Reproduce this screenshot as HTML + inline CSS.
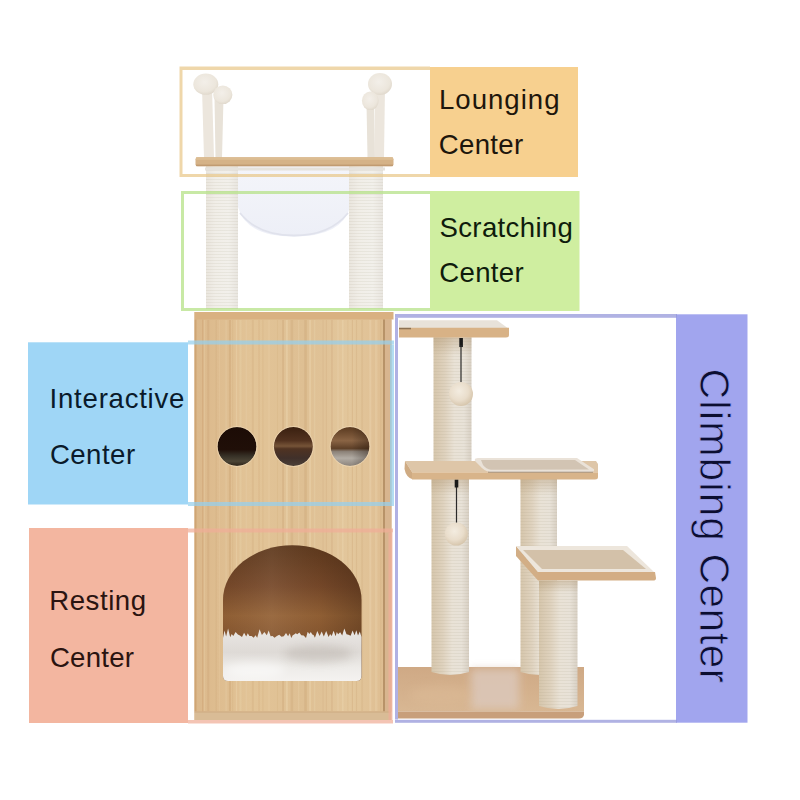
<!DOCTYPE html>
<html><head><meta charset="utf-8">
<style>
html,body{margin:0;padding:0;background:#fff;width:800px;height:800px;overflow:hidden}
svg{display:block}
text{font-family:"Liberation Sans",sans-serif}
</style></head>
<body>
<svg width="800" height="800" viewBox="0 0 800 800">
<defs>
  <filter id="blurS" x="-5%" y="-20%" width="110%" height="140%"><feGaussianBlur stdDeviation="0.6"/></filter>
  <linearGradient id="topShade" x1="0" x2="0" y1="0" y2="1">
    <stop offset="0" stop-color="#A88A62" stop-opacity="0.35"/>
    <stop offset="1" stop-color="#A88A62" stop-opacity="0"/>
  </linearGradient>
  <radialGradient id="ball" cx="0.42" cy="0.38" r="0.65">
    <stop offset="0" stop-color="#F3ECE0"/>
    <stop offset="0.6" stop-color="#E9DDCB"/>
    <stop offset="1" stop-color="#D5C4AA"/>
  </radialGradient>
  <radialGradient id="pom" cx="0.45" cy="0.4" r="0.65">
    <stop offset="0" stop-color="#F3EFE9"/>
    <stop offset="0.7" stop-color="#ECE6DC"/>
    <stop offset="1" stop-color="#DDD5C8"/>
  </radialGradient>
  <filter id="blur4" x="-50%" y="-50%" width="200%" height="200%"><feGaussianBlur stdDeviation="4"/></filter>
  <filter id="blur2" x="-50%" y="-50%" width="200%" height="200%"><feGaussianBlur stdDeviation="1.5"/></filter>
  <clipPath id="archClip"><path d="M223 676 L223 600 A69 54.5 0 0 1 361.5 600 L361.5 676 Q361.5 681 356.5 681 L228 681 Q223 681 223 676 Z"/></clipPath>
  <pattern id="stripes" width="6" height="3" patternUnits="userSpaceOnUse">
    <rect y="2" width="6" height="1" fill="#9a8a70" opacity="0.10"/>
  </pattern>
  <linearGradient id="postW" x1="0" x2="1" y1="0" y2="0">
    <stop offset="0" stop-color="#EAE6DE"/>
    <stop offset="0.3" stop-color="#F1EEE8"/>
    <stop offset="0.7" stop-color="#F2F0EB"/>
    <stop offset="1" stop-color="#E9E6E0"/>
  </linearGradient>
  <linearGradient id="postB" x1="0" x2="1" y1="0" y2="0">
    <stop offset="0" stop-color="#D6C6AC"/>
    <stop offset="0.3" stop-color="#DFD2BE"/>
    <stop offset="0.55" stop-color="#E9E2D6"/>
    <stop offset="0.8" stop-color="#E8E2D8"/>
    <stop offset="1" stop-color="#D8D0C4"/>
  </linearGradient>
  <linearGradient id="wood" x1="0" x2="1" y1="0" y2="0">
    <stop offset="0" stop-color="#DBB88B"/>
    <stop offset="0.3" stop-color="#E2C497"/>
    <stop offset="0.55" stop-color="#DEBF93"/>
    <stop offset="0.8" stop-color="#E3C79C"/>
    <stop offset="1" stop-color="#DDBB8F"/>
  </linearGradient>
  <linearGradient id="archIn" x1="0" x2="0" y1="0" y2="1">
    <stop offset="0" stop-color="#5E391D"/>
    <stop offset="0.3" stop-color="#77492A"/>
    <stop offset="0.52" stop-color="#946236"/>
    <stop offset="0.7" stop-color="#86562F"/>
    <stop offset="0.8" stop-color="#6C4222"/>
    <stop offset="1" stop-color="#6A4224"/>
  </linearGradient>
  <linearGradient id="archSide" x1="0" x2="1" y1="0" y2="0">
    <stop offset="0" stop-color="#2a1608" stop-opacity="0.05"/>
    <stop offset="0.35" stop-color="#fff" stop-opacity="0.06"/>
    <stop offset="0.7" stop-color="#2a1608" stop-opacity="0.05"/>
    <stop offset="1" stop-color="#2a1608" stop-opacity="0.3"/>
  </linearGradient>
  <linearGradient id="fluff" x1="0" x2="0" y1="0" y2="1">
    <stop offset="0" stop-color="#EAE7E4"/>
    <stop offset="0.45" stop-color="#DEDAD6"/>
    <stop offset="0.75" stop-color="#EEECE9"/>
    <stop offset="1" stop-color="#F4F2F0"/>
  </linearGradient>
  <linearGradient id="hole1" x1="0" x2="0" y1="0" y2="1">
    <stop offset="0" stop-color="#1C0C06"/>
    <stop offset="0.58" stop-color="#200F08"/>
    <stop offset="0.74" stop-color="#363026"/>
    <stop offset="0.88" stop-color="#4C4536"/>
    <stop offset="1" stop-color="#2E2419"/>
  </linearGradient>
  <linearGradient id="hole2" x1="0" x2="0" y1="0" y2="1">
    <stop offset="0" stop-color="#3A2010"/>
    <stop offset="0.35" stop-color="#52321F"/>
    <stop offset="0.49" stop-color="#765438"/>
    <stop offset="0.56" stop-color="#503322"/>
    <stop offset="0.8" stop-color="#40302A"/>
    <stop offset="1" stop-color="#4C4038"/>
  </linearGradient>
  <linearGradient id="hole3" x1="0" x2="0" y1="0" y2="1">
    <stop offset="0" stop-color="#5A3A20"/>
    <stop offset="0.35" stop-color="#8A6444"/>
    <stop offset="0.55" stop-color="#5E4028"/>
    <stop offset="0.63" stop-color="#8C8278"/>
    <stop offset="0.8" stop-color="#B2ACA4"/>
    <stop offset="1" stop-color="#8C847C"/>
  </linearGradient>
  <linearGradient id="holeSide" x1="0" x2="1" y1="0" y2="0">
    <stop offset="0" stop-color="#000" stop-opacity="0"/>
    <stop offset="0.55" stop-color="#000" stop-opacity="0"/>
    <stop offset="1" stop-color="#1a0a00" stop-opacity="0.35"/>
  </linearGradient>
  <linearGradient id="dome" x1="0" x2="0" y1="0" y2="1">
    <stop offset="0" stop-color="#F4F5FA"/>
    <stop offset="1" stop-color="#EDEFF7"/>
  </linearGradient>
</defs>

<!-- ============ Label fills ============ -->
<rect x="430" y="67" width="148" height="110" fill="#F7D08F"/>
<rect x="430" y="191" width="149.5" height="120" fill="#CFEEA0"/>
<rect x="28" y="342.3" width="160" height="162.2" fill="#9FD6F6"/>
<rect x="29" y="528" width="159" height="195" fill="#F3B6A0"/>
<rect x="676" y="314.3" width="71.5" height="408.4" fill="#A1A5EE"/>

<!-- ============ Cat tree : top ============ -->
<!-- pompom sticks left -->
<path d="M202 88 L212 88 L214 158 L204 158 Z" fill="#ECE6DD"/>
<path d="M214.5 98 L223.5 98 L222 158 L215.5 158 Z" fill="#E8E2D8"/>
<ellipse cx="205.8" cy="84.2" rx="12.5" ry="10.6" fill="url(#pom)"/>
<ellipse cx="222.8" cy="94.8" rx="9.6" ry="9.3" fill="url(#pom)"/>
<!-- pompom sticks right -->
<path d="M375 86 L385 86 L384 158 L374 158 Z" fill="#ECE6DD"/>
<path d="M366.5 103 L374 103 L374.5 158 L367.5 158 Z" fill="#E8E2D8"/>
<ellipse cx="380" cy="84" rx="12" ry="11" fill="url(#pom)"/>
<ellipse cx="370.3" cy="100.8" rx="8.4" ry="9.3" fill="url(#pom)"/>

<!-- dome -->
<path d="M238 166 L350 166 L350 207 Q342 236.5 294 236.5 Q246 236.5 238 207 Z" fill="url(#dome)"/>
<path d="M240 213 Q258 235.5 294 235.5 Q330 235.5 348 213" fill="none" stroke="#E0E2EC" stroke-width="1.8"/>
<!-- posts -->
<rect x="206" y="166" width="32" height="143" fill="url(#postW)"/>
<rect x="206" y="166" width="32" height="143" fill="url(#stripes)"/>
<rect x="349" y="166" width="34" height="143" fill="url(#postW)"/>
<rect x="349" y="166" width="34" height="143" fill="url(#stripes)"/>
<!-- top platform -->
<rect x="195.5" y="157.3" width="198" height="9" rx="2" fill="#D5B287"/>
<rect x="196" y="157.3" width="197" height="2.5" fill="#DCBD93"/>
<rect x="196" y="164.6" width="197" height="1.6" fill="#B89268" opacity="0.7"/>
<rect x="205" y="167.5" width="180" height="3" fill="#E6E2DC"/>

<!-- ============ Cabinet ============ -->
<rect x="194.5" y="312" width="197" height="408" fill="url(#wood)"/>
<rect x="194.5" y="312" width="199" height="7.5" fill="#D9B181"/>
<rect x="194.5" y="319.5" width="2" height="392" fill="#CFA574"/>
<rect x="202" y="319.5" width="1.2" height="392" fill="#D2AA7A" opacity="0.7"/>
<rect x="385" y="319.5" width="6.5" height="392" fill="#D8B58F"/>
<rect x="383" y="319.5" width="2" height="392" fill="#8A6038" opacity="0.45"/>
<rect x="194.5" y="711.5" width="196.5" height="8.5" fill="#D9BC96"/>
<rect x="194.5" y="711.5" width="196.5" height="1" fill="#C9A277" opacity="0.6"/>
<!-- subtle grain -->
<g>
<rect x="204.0" y="320" width="1.2" height="391" fill="#F0DCB8" opacity="0.25"/>
<rect x="207.3" y="320" width="2" height="391" fill="#C9A070" opacity="0.30"/>
<rect x="215.7" y="320" width="1" height="391" fill="#C9A070" opacity="0.26"/>
<rect x="219.2" y="320" width="0.8" height="391" fill="#F0DCB8" opacity="0.16"/>
<rect x="225.6" y="320" width="1" height="391" fill="#F0DCB8" opacity="0.30"/>
<rect x="228.9" y="320" width="2" height="391" fill="#C9A070" opacity="0.39"/>
<rect x="232.2" y="320" width="1" height="391" fill="#C9A070" opacity="0.19"/>
<rect x="235.9" y="320" width="1.2" height="391" fill="#F0DCB8" opacity="0.32"/>
<rect x="239.5" y="320" width="2" height="391" fill="#F0DCB8" opacity="0.24"/>
<rect x="245.8" y="320" width="0.8" height="391" fill="#F0DCB8" opacity="0.30"/>
<rect x="251.8" y="320" width="2" height="391" fill="#C9A070" opacity="0.23"/>
<rect x="258.3" y="320" width="1.5" height="391" fill="#C9A070" opacity="0.21"/>
<rect x="262.4" y="320" width="1" height="391" fill="#C9A070" opacity="0.23"/>
<rect x="268.4" y="320" width="1.2" height="391" fill="#F0DCB8" opacity="0.22"/>
<rect x="277.2" y="320" width="0.8" height="391" fill="#C9A070" opacity="0.19"/>
<rect x="282.3" y="320" width="1.5" height="391" fill="#C9A070" opacity="0.39"/>
<rect x="285.8" y="320" width="2" height="391" fill="#F0DCB8" opacity="0.37"/>
<rect x="290.6" y="320" width="2.5" height="391" fill="#C9A070" opacity="0.27"/>
<rect x="298.4" y="320" width="0.8" height="391" fill="#F0DCB8" opacity="0.39"/>
<rect x="304.3" y="320" width="2.5" height="391" fill="#C9A070" opacity="0.33"/>
<rect x="309.1" y="320" width="2" height="391" fill="#F0DCB8" opacity="0.36"/>
<rect x="313.8" y="320" width="1.5" height="391" fill="#F0DCB8" opacity="0.24"/>
<rect x="322.5" y="320" width="1.2" height="391" fill="#C9A070" opacity="0.18"/>
<rect x="325.8" y="320" width="1.2" height="391" fill="#C9A070" opacity="0.21"/>
<rect x="331.2" y="320" width="1.5" height="391" fill="#C9A070" opacity="0.26"/>
<rect x="337.5" y="320" width="1" height="391" fill="#F0DCB8" opacity="0.37"/>
<rect x="342.1" y="320" width="1.5" height="391" fill="#F0DCB8" opacity="0.32"/>
<rect x="347.4" y="320" width="1" height="391" fill="#C9A070" opacity="0.19"/>
<rect x="351.8" y="320" width="1" height="391" fill="#C9A070" opacity="0.36"/>
<rect x="355.9" y="320" width="1.2" height="391" fill="#C9A070" opacity="0.25"/>
<rect x="361.1" y="320" width="2" height="391" fill="#C9A070" opacity="0.18"/>
<rect x="369.3" y="320" width="2" height="391" fill="#F0DCB8" opacity="0.33"/>
<rect x="375.0" y="320" width="2.5" height="391" fill="#F0DCB8" opacity="0.25"/>
<rect x="380.4" y="320" width="0.8" height="391" fill="#C9A070" opacity="0.25"/>
</g>
<!-- holes -->
<circle cx="237" cy="446.5" r="19.4" fill="url(#hole1)"/>
<circle cx="293.4" cy="446.5" r="19.5" fill="url(#hole2)"/>
<circle cx="350" cy="446.5" r="19.4" fill="url(#hole3)"/>
<circle cx="350" cy="446.5" r="19.4" fill="url(#holeSide)"/>
<g fill="none" stroke="#F2DDBC" stroke-width="0.9" opacity="0.7">
<circle cx="237" cy="446.5" r="19.9"/><circle cx="293.4" cy="446.5" r="20"/><circle cx="350" cy="446.5" r="19.9"/>
</g>
<!-- arch -->
<path id="archP" d="M223 676 L223 600 A69 54.5 0 0 1 361.5 600 L361.5 676 Q361.5 681 356.5 681 L228 681 Q223 681 223 676 Z" fill="url(#archIn)"/>
<path d="M223 676 L223 600 A69 54.5 0 0 1 361.5 600 L361.5 676 Q361.5 681 356.5 681 L228 681 Q223 681 223 676 Z" fill="url(#archSide)"/>
<path d="M223 638 L224.5 630.5 L226.1 636.4 L228.1 628.6 L230.2 637.3 L231.7 634.0 L233.3 635.9 L235.6 632.0 L237.9 634.6 L239.9 635.6 L242.0 637.0 L244.1 632.7 L246.2 636.4 L247.8 633.3 L249.4 635.9 L251.6 636.1 L253.7 637.7 L255.5 635.3 L257.2 637.7 L259.6 629.2 L261.9 634.9 L264.4 631.9 L266.8 635.2 L268.7 630.4 L270.6 636.3 L272.6 636.0 L274.5 637.7 L276.9 636.0 L279.2 634.7 L281.5 636.7 L283.8 636.3 L286.0 633.1 L288.1 636.3 L289.7 633.2 L291.3 638.0 L292.7 635.2 L294.1 634.6 L295.7 633.3 L297.3 634.2 L299.3 632.5 L301.3 635.3 L303.7 635.5 L306.0 638.0 L307.7 631.8 L309.3 634.1 L310.8 631.9 L312.3 634.6 L313.6 634.9 L314.9 637.8 L317.3 631.0 L319.6 636.1 L321.7 631.6 L323.8 636.5 L326.2 630.9 L328.6 636.9 L330.1 633.9 L331.7 636.1 L333.6 630.8 L335.6 636.3 L336.8 632.0 L338.1 634.2 L340.2 632.2 L342.2 635.4 L344.3 628.6 L346.5 634.2 L348.5 634.8 L350.6 635.8 L352.6 630.5 L354.6 635.3 L356.3 630.2 L358.0 635.5 L359.8 631.6 L361.5 636.9 L361.5 676 Q361.5 681 356.5 681 L228 681 Q223 681 223 676 Z" fill="url(#fluff)" filter="url(#blurS)"/>
<g clip-path="url(#archClip)">
<ellipse cx="318" cy="654" rx="34" ry="9" fill="#A0978E" opacity="0.28" filter="url(#blur4)"/>
<ellipse cx="255" cy="670" rx="30" ry="8" fill="#fff" opacity="0.5" filter="url(#blur4)"/>
</g>

<!-- ============ Climbing tree (right) ============ -->
<!-- base -->
<linearGradient id="baseTop" x1="0" x2="0" y1="0" y2="1"><stop offset="0" stop-color="#CFA985"/><stop offset="1" stop-color="#D8B793"/></linearGradient>
<path d="M398 667 L584 667 L584 711.5 L398 711.5 Z" fill="url(#baseTop)"/>
<rect x="471" y="669" width="48" height="40" fill="#DCC8BA" opacity="0.85" filter="url(#blur4)"/>
<ellipse cx="440" cy="695" rx="30" ry="9" fill="#DDBB97" opacity="0.5" filter="url(#blur4)"/>
<path d="M398 711.5 L584 711.5 L584 715 Q583 718.5 579 718.5 L398 718.5 Z" fill="#C89F7B"/>
<!-- left lower post -->
<path d="M431.5 478 L469 478 L469 672 Q450 678 431.5 672 Z" fill="url(#postB)"/>
<path d="M431.5 478 L469 478 L469 672 Q450 678 431.5 672 Z" fill="url(#stripes)"/>
<rect x="431.5" y="479" width="37.5" height="16" fill="url(#topShade)"/>
<!-- right back post -->
<path d="M520.5 478 L557 478 L557 672 Q539 678 520.5 672 Z" fill="url(#postB)"/>
<path d="M520.5 478 L557 478 L557 672 Q539 678 520.5 672 Z" fill="url(#stripes)"/>
<rect x="520.5" y="479" width="36.5" height="16" fill="url(#topShade)"/>
<!-- top post -->
<rect x="433.5" y="337" width="38" height="127" fill="url(#postB)"/>
<rect x="433.5" y="337" width="38" height="127" fill="url(#stripes)"/>
<rect x="433.5" y="337.5" width="38" height="18" fill="url(#topShade)"/>
<!-- top platform -->
<path d="M399 320.3 L497 320.3 L509 329 L399 329 Z" fill="#E8E2D9"/>
<path d="M399 327.8 L509 327.8 L509 335 Q509 337.5 506 337.5 L399 337.5 Z" fill="#D8B286"/>
<rect x="399" y="327.8" width="12" height="1.5" fill="#5A4630" opacity="0.6"/>
<!-- strings & balls -->
<rect x="459.3" y="338" width="3.6" height="9" fill="#1A1A1A"/>
<line x1="461" y1="345" x2="461" y2="384" stroke="#2A2A2A" stroke-width="1.2"/>
<circle cx="461" cy="394" r="12" fill="url(#ball)"/>
<line x1="456.5" y1="480" x2="456.5" y2="523" stroke="#2A2A2A" stroke-width="1.2"/>
<rect x="454.7" y="479.5" width="3.6" height="8" fill="#1A1A1A"/>
<circle cx="456.3" cy="534" r="11.5" fill="url(#ball)"/>
<!-- middle platform -->
<path d="M405 461 L596 461 L598 464 L598 472 L412 472 Z" fill="#DEC6A8"/>
<path d="M405 461 L412 472 L412 479 Q406 477 404.5 469 Z" fill="#CFAB83"/>
<path d="M412 472.2 L598 472.2 L598 477 Q598 479.5 595 479.5 L412 479.5 Z" fill="#D8B48A"/>
<path d="M478 457.9 L577 457.9 L594 469.3 Q594.5 472 591 472 L490 472 Q484 471 480 466 L475 461 Q474 457.9 478 457.9 Z" fill="#EAE2D8"/>
<path d="M481 460 L575 460 L589 469.5 L491 469.8 Q486 469 483 465 Z" fill="#D2C4B3"/>
<line x1="488" y1="472.2" x2="593" y2="472.2" stroke="#7E6C5A" stroke-width="0.9" opacity="0.7"/>
<!-- step platform -->
<path d="M516 546 L538 572 L538 580.6 L516 556 Z" fill="#D2AE86"/>
<path d="M516 546 L627 546 L654 572 L538 572 Z" fill="#EDE6DC"/>
<path d="M523 550 L623 550 L646 569 L542 569 Z" fill="#D3C1A9"/>
<path d="M538 572 L655 572 L656 578 Q656 580.6 653 580.6 L538 580.6 Z" fill="#D3AD84"/>
<!-- front post -->
<path d="M539 580.6 L577.5 580.6 L577.5 706 Q558 712 539 706 Z" fill="url(#postB)"/>
<path d="M539 580.6 L577.5 580.6 L577.5 706 Q558 712 539 706 Z" fill="url(#stripes)"/>
<rect x="539" y="580.6" width="38.5" height="12" fill="url(#topShade)"/>

<!-- ============ Outline boxes ============ -->
<g fill="#E9C88A" opacity="0.72">
  <rect x="179.5" y="66.5" width="250.5" height="3.5"/>
  <rect x="179.5" y="174" width="250.5" height="3"/>
  <rect x="179.5" y="70" width="3" height="104"/>
</g>
<g fill="#B6E288" opacity="0.75">
  <rect x="181" y="191" width="249" height="3"/>
  <rect x="181" y="308" width="249" height="3"/>
  <rect x="181" y="194" width="3" height="114"/>
</g>
<g fill="#96D0EE" opacity="0.72">
  <rect x="188" y="340.5" width="206" height="4"/>
  <rect x="188" y="502" width="206" height="4"/>
  <rect x="390" y="344.5" width="4" height="157.5"/>
</g>
<g fill="#F0AE98" opacity="0.72">
  <rect x="188" y="528.5" width="205" height="4"/>
  <rect x="188" y="720" width="205" height="3.5"/>
  <rect x="388.5" y="532.5" width="4" height="187.5"/>
</g>
<g fill="#9698DA" opacity="0.75">
  <rect x="395" y="314" width="282" height="3.8"/>
  <rect x="395" y="719.8" width="282" height="3"/>
  <rect x="395" y="317.5" width="3" height="402"/>
</g>

<!-- ============ Text ============ -->
<g font-size="27.6" fill="#1E160C">
  <text x="439" y="109" textLength="120.5" lengthAdjust="spacing">Lounging</text>
  <text x="438.8" y="154.3" textLength="84.3" lengthAdjust="spacing">Center</text>
</g>
<g font-size="27.6" fill="#0F1C0C">
  <text x="439.5" y="236.8" textLength="133.4" lengthAdjust="spacing">Scratching</text>
  <text x="439.3" y="282.3" textLength="84.3" lengthAdjust="spacing">Center</text>
</g>
<g font-size="27.6" fill="#0A1A2A">
  <text x="49.6" y="407.5" textLength="134.8" lengthAdjust="spacing">Interactive</text>
  <text x="49.9" y="464" textLength="85.2" lengthAdjust="spacing">Center</text>
</g>
<g font-size="27.6" fill="#2A1410">
  <text x="49.2" y="610" textLength="96.9" lengthAdjust="spacing">Resting</text>
  <text x="49.9" y="666.5" textLength="84.1" lengthAdjust="spacing">Center</text>
</g>
<g font-size="42.5" fill="#0C0E30" stroke="#A1A5EE" stroke-width="0.8">
  <text transform="translate(700 368.5) rotate(90)" textLength="172.5" lengthAdjust="spacing">Climbing</text>
  <text transform="translate(700 553.5) rotate(90)" textLength="129.5" lengthAdjust="spacing">Center</text>
</g>
</svg>
</body></html>
